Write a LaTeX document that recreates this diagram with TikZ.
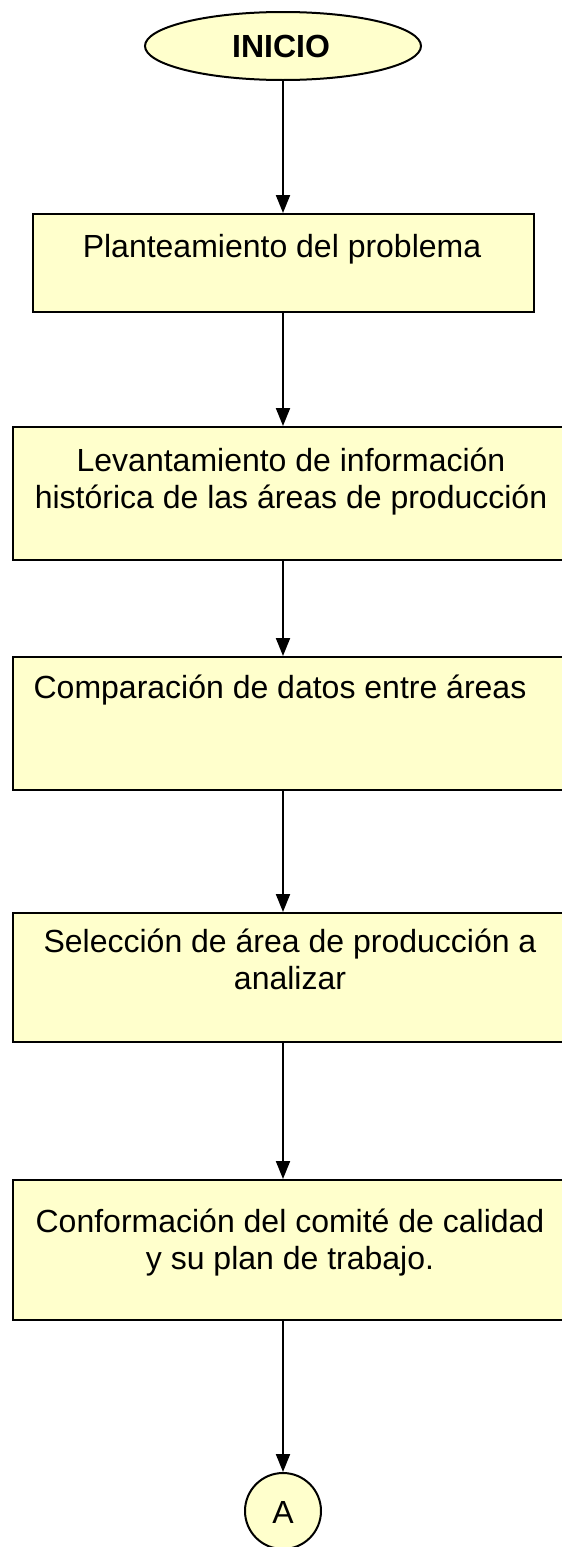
\documentclass[tikz,border=0pt]{standalone}
\usepackage{fontspec}
\setmainfont{Liberation Sans}
\usetikzlibrary{arrows.meta,shapes.geometric}
\definecolor{boxfill}{HTML}{FFFFCC}
\begin{document}
\begin{tikzpicture}[x=1pt,y=-1pt,
  box/.style={draw=black,line width=2pt,fill=boxfill,rectangle,inner sep=0pt},
  txt/.style={font=\fontsize{32}{37}\selectfont,align=center,inner sep=0pt,anchor=base},
  arr/.style={line width=2pt,-{Triangle[width=14pt,length=18pt]}}]
\useasboundingbox (0,0) rectangle (562,1547);
\fill[white] (0,0) rectangle (562,1547);
% start
\node[ellipse,draw=black,line width=2pt,fill=boxfill,minimum width=276pt,minimum height=68pt,inner sep=0pt] (start) at (283,46) {};
\node[txt,font=\fontsize{32}{37}\selectfont\bfseries] (starttxt) at (281,57) {INICIO};
% box 1
\node[box,minimum width=501pt,minimum height=98pt] (b1) at (283,263) {};
\node[txt] (t1) at (282,257) {Planteamiento del problema};
% box 2
\node[box,minimum width=556pt,minimum height=133pt] (b2) at (291,493.5) {};
\node[txt] (t2) at (291,508) {Levantamiento de informaci\'on\\hist\'orica de las \'areas de producci\'on};
% box 3
\node[box,minimum width=556pt,minimum height=133pt] (b3) at (291,723.5) {};
\node[txt] (t3) at (280,698) {Comparaci\'on de datos entre \'areas};
% box 4
\node[box,minimum width=556pt,minimum height=129pt] (b4) at (291,977.5) {};
\node[txt] (t4) at (290,989) {Selecci\'on de \'area de producci\'on a\\analizar};
% box 5
\node[box,minimum width=556pt,minimum height=140pt] (b5) at (291,1250) {};
\node[txt] (t5) at (290,1269) {Conformaci\'on del comit\'e de calidad\\y su plan de trabajo.};
% connector
\node[circle,draw=black,line width=2pt,fill=boxfill,minimum size=76pt,inner sep=0pt] (c) at (283,1511) {};
\node[txt] (ct) at (283,1523) {A};
% arrows
\draw[arr] (start.south) -- (start.south |- b1.north);
\draw[arr] (b1.south) -- (b1.south |- b2.north);
\draw[arr] (b1.south |- b2.south) -- (b1.south |- b3.north);
\draw[arr] (b1.south |- b3.south) -- (b1.south |- b4.north);
\draw[arr] (b1.south |- b4.south) -- (b1.south |- b5.north);
\draw[arr] (b1.south |- b5.south) -- (c.north);
\end{tikzpicture}
\end{document}
